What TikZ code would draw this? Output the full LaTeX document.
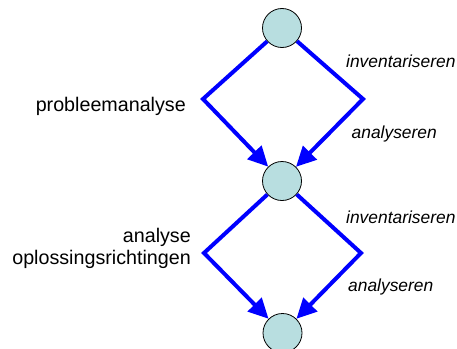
\documentclass[tikz,border=0pt]{standalone}
\usepackage{fontspec}
\setmainfont{Liberation Sans}
\usetikzlibrary{arrows.meta}
\definecolor{nodefill}{RGB}{184,222,224}
\definecolor{flowblue}{RGB}{0,0,255}
\tikzset{
  statenode/.style={circle, draw=black, line width=0.8pt, fill=nodefill, minimum size=39pt, inner sep=0pt},
  flow/.style={draw=flowblue, line width=4pt, -{Triangle[length=20pt,width=19pt]}, line join=miter},
  leftlbl/.style={font=\fontsize{19.7}{22}\selectfont, anchor=base east, align=right, inner sep=0pt},
  rightlbl/.style={font=\fontsize{17.4}{20}\selectfont\itshape, anchor=base west, inner sep=0pt}
}
\begin{document}
\begin{tikzpicture}[x=1pt,y=-1pt]
\useasboundingbox (0,0) rectangle (457,348);
\node[statenode] (s1) at (282,28) {};
\node[statenode] (s2) at (282,181) {};
\node[statenode] (s3) at (282.5,333) {};
\coordinate (l1) at (203,99);
\coordinate (r1) at (363,99);
\coordinate (l2) at (204,253);
\coordinate (r2) at (361,253);
\draw[flow] (s1) -- (l1) -- (s2);
\draw[flow] (s1) -- (r1) -- (s2);
\draw[flow] (s2) -- (l2) -- (s3);
\draw[flow] (s2) -- (r2) -- (s3);
\node[leftlbl] (p1) at (186,111) {probleemanalyse};
\node[leftlbl] (p2) at (191,242) {analyse};
\node[leftlbl] (p3) at (191,264) {oplossingsrichtingen};
\node[rightlbl] (i1) at (346,67) {inventariseren};
\node[rightlbl] (a1) at (351.5,138) {analyseren};
\node[rightlbl] (i2) at (346,223) {inventariseren};
\node[rightlbl] (a2) at (348,291) {analyseren};
\end{tikzpicture}
\end{document}
